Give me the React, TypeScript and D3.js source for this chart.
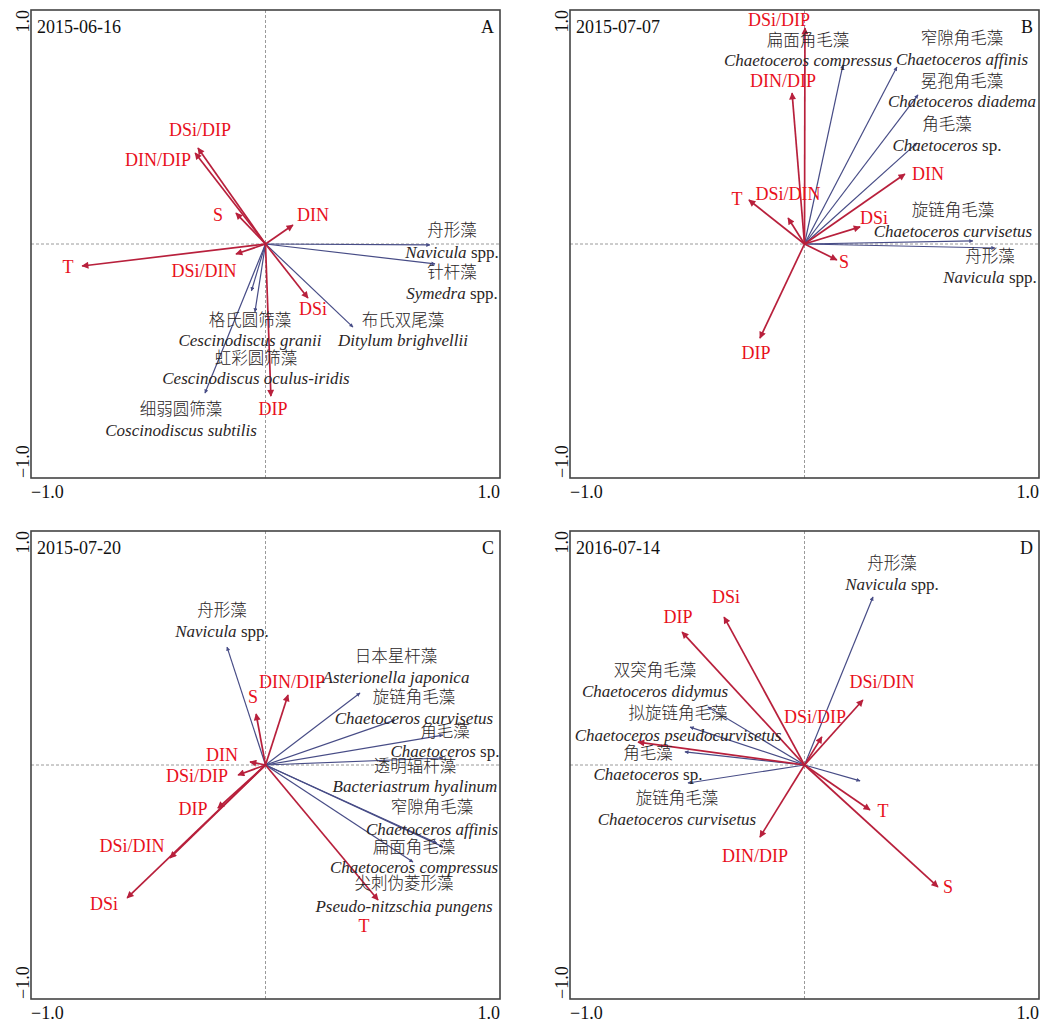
import React from 'react';
import * as d3 from 'd3';

// ---------- DATA ----------
type Env = { name: string; x: number; y: number };
type Sp = { cn: string; genus: string; suffix: string; x: number; y: number };

const axisTicks = ['-1.0', '1.0'];
const panelIds = ['A', 'B', 'C', 'D'];
const panelDates = ['2015-06-16', '2015-07-07', '2015-07-20', '2016-07-14'];

const envA: Env[] = [
  { name: 'DSi/DIP', x: -0.288, y: 0.41 },
  { name: 'DIN/DIP', x: -0.3, y: 0.389 },
  { name: 'S', x: -0.126, y: 0.132 },
  { name: 'DIN', x: 0.117, y: 0.081 },
  { name: 'T', x: -0.782, y: -0.094 },
  { name: 'DSi/DIN', x: -0.126, y: -0.043 },
  { name: 'DSi', x: 0.181, y: -0.231 },
  { name: 'DIP', x: 0.023, y: -0.65 },
];
const spA: Sp[] = [
  { cn: '舟形藻', genus: 'Navicula', suffix: ' spp.', x: 0.701, y: -0.004 },
  { cn: '针杆藻', genus: 'Symedra', suffix: ' spp.', x: 0.723, y: -0.085 },
  { cn: '布氏双尾藻', genus: 'Ditylum brighvellii', suffix: '', x: 0.373, y: -0.355 },
  { cn: '格氏圆筛藻', genus: 'Cescinodiscus granii', suffix: '', x: -0.045, y: -0.29 },
  { cn: '虹彩圆筛藻', genus: 'Cescinodiscus oculus-iridis', suffix: '', x: -0.06, y: -0.2 },
  { cn: '细弱圆筛藻', genus: 'Coscinodiscus subtilis', suffix: '', x: -0.258, y: -0.637 },
];

const envB: Env[] = [
  { name: 'DSi/DIP', x: 0.002, y: 0.923 },
  { name: 'DIN/DIP', x: -0.053, y: 0.645 },
  { name: 'T', x: -0.237, y: 0.188 },
  { name: 'DSi/DIN', x: -0.07, y: 0.111 },
  { name: 'DIN', x: 0.428, y: 0.299 },
  { name: 'DSi', x: 0.237, y: 0.073 },
  { name: 'S', x: 0.138, y: -0.068 },
  { name: 'DIP', x: -0.19, y: -0.402 },
];
const spB: Sp[] = [
  { cn: '扁面角毛藻', genus: 'Chaetoceros compressus', suffix: '', x: 0.164, y: 0.765 },
  { cn: '窄隙角毛藻', genus: 'Chaetoceros affinis', suffix: '', x: 0.394, y: 0.756 },
  { cn: '冕孢角毛藻', genus: 'Chaetoceros diadema', suffix: '', x: 0.484, y: 0.637 },
  { cn: '角毛藻', genus: 'Chaetoceros', suffix: ' sp.', x: 0.48, y: 0.432 },
  { cn: '旋链角毛藻', genus: 'Chaetoceros curvisetus', suffix: '', x: 0.718, y: 0.013 },
  { cn: '舟形藻', genus: 'Navicula', suffix: ' spp.', x: 0.812, y: -0.017 },
];

const envC: Env[] = [
  { name: 'S', x: -0.04, y: 0.218 },
  { name: 'DIN/DIP', x: 0.096, y: 0.299 },
  { name: 'DIN', x: -0.066, y: 0.013 },
  { name: 'DSi/DIP', x: -0.117, y: -0.043 },
  { name: 'DIP', x: -0.203, y: -0.184 },
  { name: 'DSi/DIN', x: -0.407, y: -0.397 },
  { name: 'DSi', x: -0.59, y: -0.568 },
  { name: 'T', x: 0.48, y: -0.577 },
];
const spC: Sp[] = [
  { cn: '舟形藻', genus: 'Navicula', suffix: ' spp.', x: -0.164, y: 0.504 },
  { cn: '日本星杆藻', genus: 'Asterionella japonica', suffix: '', x: 0.403, y: 0.308 },
  { cn: '旋链角毛藻', genus: 'Chaetoceros curvisetus', suffix: '', x: 0.552, y: 0.192 },
  { cn: '角毛藻', genus: 'Chaetoceros', suffix: ' sp.', x: 0.757, y: 0.128 },
  { cn: '透明辐杆藻', genus: 'Bacteriastrum hyalinum', suffix: '', x: 0.757, y: 0.03 },
  { cn: '窄隙角毛藻', genus: 'Chaetoceros affinis', suffix: '', x: 0.757, y: -0.35 },
  { cn: '扁面角毛藻', genus: 'Chaetoceros compressus', suffix: '', x: 0.629, y: -0.415 },
  { cn: '尖刺伪菱形藻', genus: 'Pseudo-nitzschia pungens', suffix: '', x: 0.73, y: -0.333 },
];

const envD: Env[] = [
  { name: 'DIP', x: -0.522, y: 0.568 },
  { name: 'DSi', x: -0.343, y: 0.632 },
  { name: 'DSi/DIN', x: 0.249, y: 0.278 },
  { name: 'DSi/DIP', x: 0.074, y: 0.12 },
  { name: 'DIN', x: -0.71, y: 0.098 },
  { name: 'T', x: 0.279, y: -0.192 },
  { name: 'S', x: 0.569, y: -0.521 },
  { name: 'DIN/DIP', x: -0.19, y: -0.308 },
];
const spD: Sp[] = [
  { cn: '舟形藻', genus: 'Navicula', suffix: ' spp.', x: 0.292, y: 0.718 },
  { cn: '双突角毛藻', genus: 'Chaetoceros didymus', suffix: '', x: -0.412, y: 0.248 },
  { cn: '拟旋链角毛藻', genus: 'Chaetoceros pseudocurvisetus', suffix: '', x: -0.488, y: 0.162 },
  { cn: '角毛藻', genus: 'Chaetoceros', suffix: ' sp.', x: -0.51, y: 0.056 },
  { cn: '旋链角毛藻', genus: 'Chaetoceros curvisetus', suffix: '', x: -0.497, y: -0.077 },
  { cn: '', genus: '', suffix: '', x: 0.237, y: -0.068 },
];

// ---------- LAYOUT (page coords of label anchors) ----------
const envLabA = [[200, 136], [158, 166], [218, 221], [313, 221], [68, 273], [204, 277], [313, 315], [273, 415]];
const spLabA = [[452, 236, 258], [452, 278, 299], [403, 326, 346], [250, 326, 346], [256, 364, 384], [181, 415, 436]];
const envLabB = [[779, 26], [783, 87], [737, 205], [788, 200], [928, 180], [874, 224], [844, 268], [756, 359]];
const spLabB = [[808, 46, 66], [962, 44, 65], [962, 87, 107], [947, 130, 151], [953, 216, 237], [990, 262, 283]];
const envLabC = [[253, 703], [292, 688], [222, 761], [197, 782], [193, 815], [132, 852], [104, 910], [364, 932]];
const spLabC = [[222, 616, 637], [396, 662, 683], [414, 703, 724], [445, 737, 757], [415, 772, 792], [432, 813, 835], [414, 853, 873], [404, 889, 912]];
const envLabD = [[678, 623], [726, 603], [882, 688], [815, 723], null, [883, 817], [948, 893], [755, 862]];
const spLabD = [[892, 569, 590], [655, 676, 697], [678, 719, 741], [648, 759, 780], [677, 804, 825], null];

const PW = 469;
const PH = 468;
const origins = [[31, 10], [570, 10], [31, 531], [570, 531]];

const panels = [
  { env: envA, sp: spA, envLab: envLabA, spLab: spLabA },
  { env: envB, sp: spB, envLab: envLabB, spLab: spLabB },
  { env: envC, sp: spC, envLab: envLabC, spLab: spLabC },
  { env: envD, sp: spD, envLab: envLabD, spLab: spLabD },
];

const FONT = '"Liberation Serif", "Times New Roman", "Noto Sans CJK SC", serif';
const CJK = '"Noto Sans CJK SC", sans-serif';
const RED_LINE = '#b8203c';
const RED_TEXT = '#e8101c';
const BLUE = '#474c86';
const TXT = '#2a2526';

function Panel({ idx }: { idx: number }) {
  const p = panels[idx];
  const [ox, oy] = origins[idx];
  const x = d3.scaleLinear().domain([-1, 1]).range([0, PW]);
  const y = d3.scaleLinear().domain([-1, 1]).range([PH, 0]);
  const line = d3.line<[number, number]>().x((d) => x(d[0])).y((d) => y(d[1]));
  return (
    <g transform={`translate(${ox},${oy})`}>
      <line x1={x(0)} x2={x(0)} y1={0} y2={PH} stroke="#9a9a9a" strokeDasharray="3,2" strokeWidth={1} />
      <line x1={0} x2={PW} y1={y(0)} y2={y(0)} stroke="#9a9a9a" strokeDasharray="3,2" strokeWidth={1} />
      {p.sp.map((s, i) => (
        <path key={'s' + i} d={line([[0, 0], [s.x, s.y]]) || ''} stroke={BLUE} strokeWidth={1.2} fill="none" markerEnd="url(#headBlue)" />
      ))}
      {p.env.map((e, i) => (
        <path key={'e' + i} d={line([[0, 0], [e.x, e.y]]) || ''} stroke={RED_LINE} strokeWidth={1.7} fill="none" markerEnd="url(#headRed)" />
      ))}
      {p.env.map((e, i) => {
        const l = p.envLab[i];
        if (!l) return null;
        return (
          <text key={'el' + i} x={l[0] - ox} y={l[1] - oy} textAnchor="middle" fontSize={18} fill={RED_TEXT} fontFamily={FONT}>
            {e.name}
          </text>
        );
      })}
      {p.sp.map((s, i) => {
        const l = p.spLab[i];
        if (!l || !s.cn) return null;
        return (
          <g key={'sl' + i}>
            <text x={l[0] - ox} y={l[1] - oy} textAnchor="middle" fontSize={16.5} fill={TXT} fontFamily={CJK} fontWeight={300}>
              {s.cn}
            </text>
            <text x={l[0] - ox} y={l[2] - oy} textAnchor="middle" fontSize={17} fill={TXT} fontFamily={FONT}>
              <tspan fontStyle="italic">{s.genus}</tspan>
              {s.suffix ? <tspan>{s.suffix}</tspan> : null}
            </text>
          </g>
        );
      })}
      <text x={6} y={23} fontSize={18} fill="#111" fontFamily={FONT}>{panelDates[idx]}</text>
      <text x={PW - 6} y={23} fontSize={18} fill="#111" fontFamily={FONT} textAnchor="end">{panelIds[idx]}</text>
      <rect x={0} y={0} width={PW} height={PH} fill="none" stroke="#444" strokeWidth={1.6} />
      <text transform={`translate(-2,0) rotate(-90)`} textAnchor="end" fontSize={18} fill="#111" fontFamily={FONT}>{axisTicks[1]}</text>
      <text transform={`translate(-2,${PH}) rotate(-90)`} textAnchor="start" fontSize={18} fill="#111" fontFamily={FONT}>{'\u2212' + axisTicks[0].slice(1)}</text>
      <text x={0} y={PH + 20} textAnchor="start" fontSize={18} fill="#111" fontFamily={FONT}>{'\u2212' + axisTicks[0].slice(1)}</text>
      <text x={PW} y={PH + 20} textAnchor="end" fontSize={18} fill="#111" fontFamily={FONT}>{axisTicks[1]}</text>
    </g>
  );
}

export default function App() {
  return (
    <svg width={1042} height={1023} style={{ position: 'absolute', left: 0, top: 0, background: '#fff' }}>
      <defs>
        <marker id="headRed" viewBox="0 0 10 10" refX={9} refY={5} markerWidth={10} markerHeight={7} markerUnits="userSpaceOnUse" orient="auto">
          <path d="M0,0 L10,5 L0,10 z" fill={RED_LINE} />
        </marker>
        <marker id="headBlue" viewBox="0 0 10 10" refX={9} refY={5} markerWidth={5} markerHeight={4} markerUnits="userSpaceOnUse" orient="auto">
          <path d="M0,0 L10,5 L0,10 z" fill={BLUE} />
        </marker>
      </defs>
      <rect x={0} y={0} width={1042} height={1023} fill="#fff" />
      {panelIds.map((_, i) => (
        <Panel key={i} idx={i} />
      ))}
    </svg>
  );
}
